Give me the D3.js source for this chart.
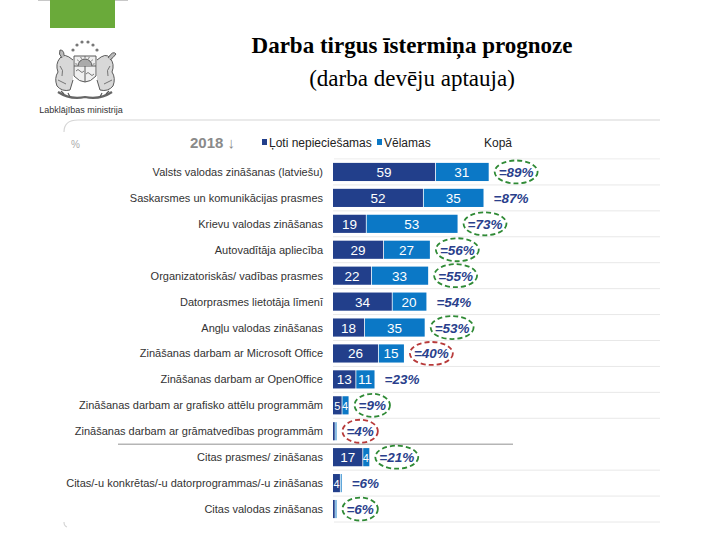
<!DOCTYPE html>
<html><head><meta charset="utf-8">
<script src="https://cdn.jsdelivr.net/npm/d3@7"></script>
<style>body{margin:0;background:#fff}svg{display:block}</style>
</head><body>
<script>
const categories = [
  "Valsts valodas zināšanas (latviešu)",
  "Saskarsmes un komunikācijas prasmes",
  "Krievu valodas zināšanas",
  "Autovadītāja apliecība",
  "Organizatoriskās/ vadības prasmes",
  "Datorprasmes lietotāja līmenī",
  "Angļu valodas zināšanas",
  "Zināšanas darbam ar Microsoft Office",
  "Zināšanas darbam ar OpenOffice",
  "Zināšanas darbam ar grafisko attēlu programmām",
  "Zināšanas darbam ar grāmatvedības programmām",
  "Citas prasmes/ zināšanas",
  "Citas/-u konkrētas/-u datorprogrammas/-u zināšanas",
  "Citas valodas zināšanas"
];
const lotiNepieciesamas = [59, 52, 19, 29, 22, 34, 18, 26, 13, 5, 1, 17, 4, 1];
const velamas = [31, 35, 53, 27, 33, 20, 35, 15, 11, 4, 1, 4, 1, 1];
const kopa = [89, 87, 73, 56, 55, 54, 53, 40, 23, 9, 4, 21, 6, 6];
const circled = ["green", null, "green", "green", "green", null, "green", "red", null, "green", "red", "green", null, "green"];
const seriesNames = ["Ļoti nepieciešamas", "Vēlamas", "Kopā"];

const W = 720, H = 540;
const svg = d3.select("body").append("svg").attr("width", W).attr("height", H)
  .style("font-family", "Arial, 'Liberation Sans', sans-serif");

// --- Logo area ---
svg.append("line").attr("x1", 38).attr("x2", 128).attr("y1", 0.5).attr("y2", 0.5).attr("stroke", "#c8c8c8");
svg.append("rect").attr("x", 50).attr("y", 0).attr("width", 65).attr("height", 28).attr("fill", "#6aaa3a");
const emb = svg.append("g").attr("fill", "none").attr("stroke", "#5a5a5a").attr("stroke-width", 1);
[[73,50],[77,45],[82,42],[88,42],[93,45],[97,50]].forEach(p =>
  emb.append("circle").attr("cx", p[0]).attr("cy", p[1]).attr("r", 1.6).attr("fill", "#777").attr("stroke", "none"));
emb.append("path").attr("d", "M74,56 L96,56 L96,76 Q85,88 74,76 Z").attr("fill", "#efefef");
emb.append("line").attr("x1", 74).attr("x2", 96).attr("y1", 66).attr("y2", 66);
emb.append("line").attr("x1", 85).attr("x2", 85).attr("y1", 66).attr("y2", 82);
emb.append("path").attr("d", "M78,66 A7,7 0 0 1 92,66").attr("fill", "#aaa");
d3.range(7).forEach(i => {
  const a = Math.PI * (i + 0.5) / 7;
  emb.append("line").attr("x1", 85 - Math.cos(a) * 8).attr("y1", 66 - Math.sin(a) * 8)
    .attr("x2", 85 - Math.cos(a) * 10).attr("y2", 66 - Math.sin(a) * 10).attr("stroke-width", 0.8);
});
emb.append("path").attr("d", "M76,71 Q78,68 80,71 Q82,74 84,71 M86,74 Q88,71 90,74 Q92,77 94,74").attr("stroke-width", 0.8);
emb.append("path").attr("d", "M73,60 Q64,52 60,58 Q55,64 58,72 Q54,78 57,86 Q62,92 70,90 L73,80")
  .attr("fill", "#d8d8d8");
emb.append("path").attr("d", "M62,58 Q58,54 60,50 Q64,50 64,55").attr("fill", "#bbb");
emb.append("path").attr("d", "M97,60 Q106,52 110,58 Q115,64 112,72 Q116,78 113,86 Q108,92 100,90 L97,80")
  .attr("fill", "#d8d8d8");
emb.append("path").attr("d", "M108,58 Q113,50 116,54 Q113,58 110,60").attr("fill", "#bbb");
emb.append("path").attr("d", "M60,66 Q64,70 62,76 M110,66 Q106,70 108,76 M58,80 L66,84 M112,80 L104,84").attr("stroke-width", 0.8);
emb.append("path").attr("d", "M58,92 Q70,100 85,97 Q100,100 112,92").attr("stroke-width", 2.2).attr("stroke", "#666");
emb.append("path").attr("d", "M64,94 l-3,-3 M70,97 l-2,-4 M100,97 l2,-4 M106,94 l3,-3").attr("stroke-width", 1.2);
svg.append("text").attr("x", 81).attr("y", 113).attr("text-anchor", "middle")
  .attr("font-size", 9).attr("fill", "#333").text("Labklājības ministrija");

// --- Title ---
svg.append("text").attr("x", 412).attr("y", 53).attr("text-anchor", "middle")
  .attr("font-family", "'Liberation Serif','Times New Roman',serif").attr("font-weight", "bold")
  .attr("font-size", 23).attr("fill", "#000").text("Darba tirgus īstermiņa prognoze");
svg.append("text").attr("x", 412).attr("y", 86).attr("text-anchor", "middle")
  .attr("font-family", "'Liberation Serif','Times New Roman',serif")
  .attr("font-size", 23).attr("fill", "#000").text("(darba devēju aptauja)");

// --- Frame ---
svg.append("path").attr("d", "M64,132 Q64,120 78,120 L660,120")
  .attr("fill", "none").attr("stroke", "#d6d6d6").attr("stroke-width", 1.2);
svg.append("path").attr("d", "M64,522 Q64,526 67,527")
  .attr("fill", "none").attr("stroke", "#d6d6d6").attr("stroke-width", 1.2);
svg.append("text").attr("x", 71).attr("y", 148).attr("font-size", 10).attr("fill", "#aaa").text("%");

// --- Legend ---
const colDark = "#223f8b", colLight = "#0b78c6", colKopa = "#2a3f8c";
svg.append("text").attr("x", 190).attr("y", 148).attr("font-size", 15).attr("font-weight", "bold")
  .attr("fill", "#8a8a8a").text("2018 ↓");
const legend = [
  {x: 262, c: colDark, t: seriesNames[0]},
  {x: 377, c: colLight, t: seriesNames[1]}
];
legend.forEach(l => {
  svg.append("rect").attr("x", l.x).attr("y", 139).attr("width", 5).attr("height", 6).attr("fill", l.c);
  svg.append("text").attr("x", l.x + 7).attr("y", 147).attr("font-size", 12).attr("fill", "#222").text(l.t);
});
svg.append("text").attr("x", 484).attr("y", 147).attr("font-size", 12).attr("fill", "#222").text(seriesNames[2]);

// --- Scales ---
const x = d3.scaleLinear().domain([0, 100]).range([333, 506]);
const y = d3.scaleBand().domain(categories).range([159, 522]).paddingInner(0.3).paddingOuter(0.15);
const step = y.step();

const g = svg.append("g");
categories.forEach((c, i) => {
  const yy = y(c) - (step - y.bandwidth()) / 2;
  if (i > 0 && i !== 11) {
    g.append("line").attr("x1", 333).attr("x2", 660).attr("y1", yy).attr("y2", yy)
      .attr("stroke", "#e8e8e8").attr("stroke-width", 1);
  }
});
g.append("line").attr("x1", 334).attr("x2", 660).attr("y1", y(categories[0]) - 4).attr("y2", y(categories[0]) - 4)
  .attr("stroke", "#ececec");
g.append("line").attr("x1", 334).attr("x2", 660).attr("y1", 522).attr("y2", 522).attr("stroke", "#e8e8e8");
const sepY = y(categories[11]) - (step - y.bandwidth()) / 2;
g.append("line").attr("x1", 118).attr("x2", 513).attr("y1", sepY).attr("y2", sepY)
  .attr("stroke", "#b5b5b5").attr("stroke-width", 1.5);

svg.append("g").selectAll("text").data(categories).join("text")
  .attr("x", 323).attr("y", d => y(d) + y.bandwidth() / 2 + 4)
  .attr("text-anchor", "end").attr("font-size", 11).attr("fill", "#333")
  .text(d => d);

const data = categories.map((c, i) => ({c, a: lotiNepieciesamas[i], b: velamas[i], k: kopa[i], circ: circled[i]}));
const bars = svg.append("g");
data.forEach(d => {
  const y0 = y(d.c), h = y.bandwidth();
  bars.append("rect").attr("x", x(0)).attr("y", y0).attr("width", x(d.a) - x(0)).attr("height", h).attr("fill", colDark);
  bars.append("rect").attr("x", x(d.a) + 0.8).attr("y", y0).attr("width", Math.max(0.8, x(d.a + d.b) - x(d.a) - 0.8))
    .attr("height", h).attr("fill", colLight);
  const fs = 13.5;
  if (d.a >= 4) bars.append("text").attr("x", (x(0) + x(d.a)) / 2).attr("y", y0 + h / 2 + 5)
    .attr("text-anchor", "middle").attr("font-size", d.a < 8 ? 11 : fs).attr("fill", "#fff").text(d.a);
  if (d.b >= 4) bars.append("text").attr("x", (x(d.a) + x(d.a + d.b)) / 2).attr("y", y0 + h / 2 + 5)
    .attr("text-anchor", "middle").attr("font-size", d.b < 8 ? 11 : fs).attr("fill", "#fff").text(d.b);

  const tx = x(d.a + d.b) + 10;
  const label = "=" + d.k + "%";
  const t = bars.append("text").attr("x", tx).attr("y", y0 + h / 2 + 5)
    .attr("font-size", 13.5).attr("font-weight", "bold").attr("font-style", "italic")
    .attr("fill", colKopa).text(label);
  if (d.circ) {
    const tw = t.node().getComputedTextLength();
    bars.append("ellipse").attr("cx", tx + tw / 2).attr("cy", y0 + h / 2)
      .attr("rx", tw / 2 + 4).attr("ry", 11.5)
      .attr("fill", "none").attr("stroke", d.circ === "green" ? "#2f8a35" : "#b83a3a")
      .attr("stroke-width", 1.8).attr("stroke-dasharray", "5,3");
  }
});
</script>
</body></html>
